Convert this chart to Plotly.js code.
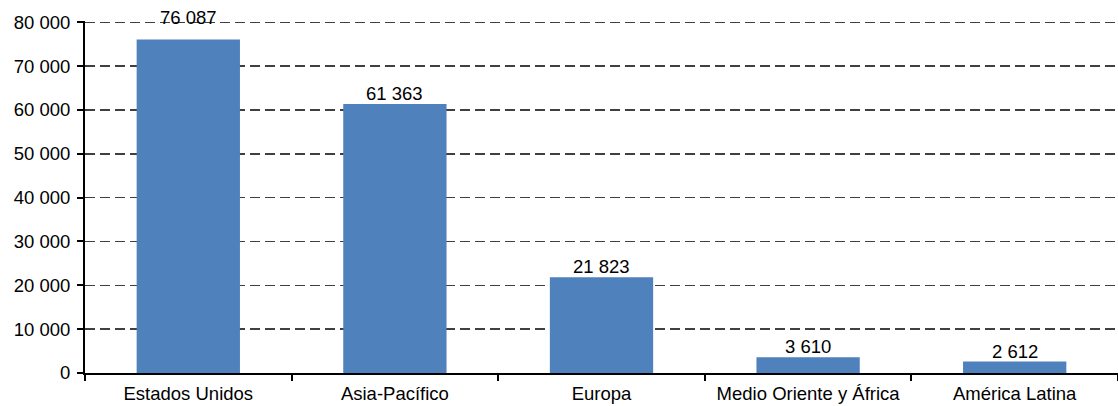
<!DOCTYPE html>
<html>
<head>
<meta charset="utf-8">
<script src="https://cdn.plot.ly/plotly-3.0.1.min.js"></script>
<style>html,body{margin:0;padding:0;background:#fff;}#chart{width:1118px;height:406px;}</style>
</head>
<body>
<div id="chart"></div>
<script>
const categories = ["Estados Unidos", "Asia-Pacífico", "Europa", "Medio Oriente y África", "América Latina"];
const values = [76087, 61363, 21823, 3610, 2612];
const tickValues = [0, 10000, 20000, 30000, 40000, 50000, 60000, 70000, 80000];

function fmt(v) {
  return String(v).replace(/\B(?=(\d{3})+(?!\d))/g, " ");
}

const FONT = "Liberation Sans, Arial, sans-serif";
const FS = 18.5;

const trace = {
  type: "bar",
  x: categories,
  y: values,
  marker: {color: "#4F81BD"},
  hoverinfo: "none"
};

const annotations = categories.map((c, i) => ({
  x: c,
  y: values[i],
  xref: "x",
  yref: "y",
  text: fmt(values[i]),
  showarrow: false,
  xanchor: "center",
  yanchor: "bottom",
  yshift: i === 0 ? 9 : -2,
  font: {family: FONT, size: FS, color: "#000"}
}));

const layout = {
  width: 1118,
  height: 406,
  margin: {l: 85, r: 0, t: 21, b: 33},
  paper_bgcolor: "#fff",
  plot_bgcolor: "#fff",
  bargap: 0.5,
  showlegend: false,
  font: {family: FONT, size: FS, color: "#000"},
  annotations: annotations,
  xaxis: {
    type: "category",
    showline: true,
    linecolor: "#000",
    linewidth: 2,
    ticks: "outside",
    tickson: "boundaries",
    ticklen: 6,
    tickwidth: 2,
    tickcolor: "#000",
    showgrid: false,
    zeroline: false,
    ticklabelstandoff: 3,
    tickfont: {family: FONT, size: FS, color: "#000"}
  },
  yaxis: {
    range: [0, 80300],
    tickvals: tickValues,
    ticktext: tickValues.map(fmt),
    showline: true,
    linecolor: "#000",
    linewidth: 2,
    ticks: "outside",
    ticklen: 6,
    tickwidth: 2,
    tickcolor: "#000",
    showgrid: true,
    gridcolor: "#404040",
    gridwidth: 1.5,
    griddash: "10px,5px",
    zeroline: false,
    ticklabelstandoff: 3,
    tickfont: {family: FONT, size: FS, color: "#000"}
  }
};

Plotly.newPlot("chart", [trace], layout, {staticPlot: true, displayModeBar: false});
</script>
</body>
</html>
